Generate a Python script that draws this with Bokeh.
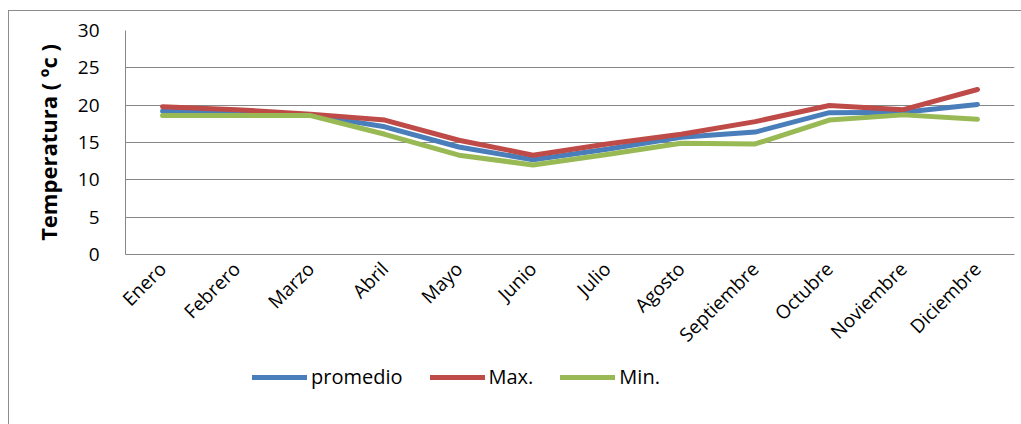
from bokeh.plotting import figure
from bokeh.layouts import column
from bokeh.models import (FactorRange, Range1d, FixedTicker, Legend, LegendItem)
from bokeh.embed import file_html
from bokeh.resources import INLINE
import math

# Monthly temperatures (ºC)
meses = ["Enero", "Febrero", "Marzo", "Abril", "Mayo", "Junio", "Julio",
         "Agosto", "Septiembre", "Octubre", "Noviembre", "Diciembre"]
promedio = [19.2, 19.0, 18.7, 17.1, 14.4, 12.7, 14.1, 15.7, 16.4, 19.0, 19.05, 20.1]
maximo = [19.8, 19.4, 18.8, 18.0, 15.3, 13.3, 14.8, 16.1, 17.8, 19.95, 19.4, 22.1]
minimo = [18.6, 18.6, 18.6, 16.1, 13.3, 12.0, 13.4, 14.9, 14.8, 18.0, 18.7, 18.1]
y_ticks = [0, 5, 10, 15, 20, 25, 30]

series = [("promedio", promedio, "#4A7EBB"),
          ("Max.", maximo, "#BE4B48"),
          ("Min.", minimo, "#98B954")]

FONT = "Open Sans"
GRID = "#878787"

# main chart
p = figure(width=1013, height=350, x_range=FactorRange(*meses),
           y_range=Range1d(0, 30), output_backend="svg", toolbar_location=None,
           min_border_left=116, min_border_top=19, min_border_right=8,
           min_border_bottom=107)
p.x_range.range_padding = 0
p.outline_line_color = None
p.border_fill_color = "white"

p.yaxis.ticker = FixedTicker(ticks=y_ticks)
p.yaxis.axis_line_color = GRID
p.yaxis.major_tick_line_color = None
p.yaxis.minor_tick_line_color = None
p.yaxis.major_label_text_font = FONT
p.yaxis.major_label_text_font_size = "19px"
p.yaxis.major_label_text_color = "black"
p.yaxis.major_label_standoff = 20
p.yaxis.axis_label = "Temperatura ( ºc )"
p.yaxis.axis_label_text_font = FONT
p.yaxis.axis_label_text_font_style = "bold"
p.yaxis.axis_label_text_font_size = "22px"
p.yaxis.axis_label_text_color = "black"
p.yaxis.axis_label_standoff = 12

p.xaxis.axis_line_color = GRID
p.xaxis.major_tick_line_color = None
p.xaxis.minor_tick_line_color = None
p.xaxis.major_label_orientation = math.pi / 4
p.xaxis.major_label_text_font = FONT
p.xaxis.major_label_text_font_size = "19px"
p.xaxis.major_label_text_color = "black"
p.xaxis.major_label_standoff = 5

p.xgrid.grid_line_color = None
p.ygrid.grid_line_color = GRID
p.ygrid.grid_line_width = 1

for name, vals, color in series:
    p.line(x=meses, y=vals, line_color=color, line_width=5,
           line_cap="round", line_join="round")

# legend strip under the chart
leg = figure(width=1013, height=64, x_range=Range1d(0, 1), y_range=Range1d(0, 1),
             output_backend="svg", toolbar_location=None,
             min_border=0, x_axis_location=None, y_axis_location=None)
leg.outline_line_color = None
leg.grid.visible = False
items = []
for name, vals, color in series:
    r = leg.line(x=[0, 1], y=[0.5, 0.5], line_color=color, line_width=5,
                 line_cap="round", visible=False)
    items.append(LegendItem(label=name, renderers=[r]))
legend = Legend(items=items, orientation="horizontal", location=(127, 35),
                label_text_font=FONT, label_text_font_size="20px",
                label_text_color="black",
                glyph_width=55, glyph_height=20, label_standoff=4, spacing=27,
                padding=0, margin=0, border_line_color=None,
                background_fill_alpha=0, inactive_fill_alpha=0)
leg.add_layout(legend, "center")

page = column(p, leg, spacing=0)
page.styles = {"margin-left": "8px", "margin-top": "10px",
               "border-left": "1px solid #8c8c8c", "border-top": "1px solid #8c8c8c"}

open("out.html", "w").write(file_html(page, INLINE))
